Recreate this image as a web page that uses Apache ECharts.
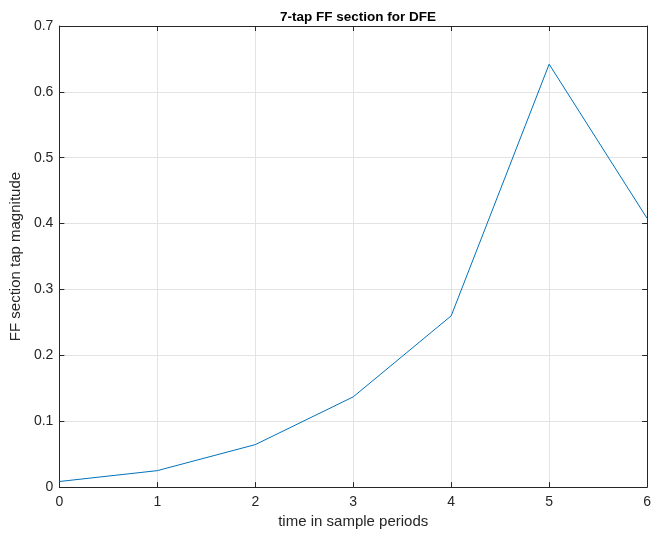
<!DOCTYPE html>
<html>
<head>
<meta charset="utf-8">
<script src="https://cdn.jsdelivr.net/npm/echarts@6/dist/echarts.min.js"></script>
<style>
  html, body { margin: 0; padding: 0; background: #fff; }
  #chart { width: 654px; height: 534px; }
</style>
</head>
<body>
<div id="chart"></div>
<script>
// data
var taps = [0, 1, 2, 3, 4, 5, 6];
var magnitude = [0.0085, 0.025, 0.0645, 0.137, 0.26, 0.642, 0.408];

var axisColor = '#262626';
var font = 'Liberation Sans, Arial, Helvetica, sans-serif';

var chart = echarts.init(document.getElementById('chart'));
chart.setOption({
  backgroundColor: '#fff',
  animation: false,
  title: {
    text: '7-tap FF section for DFE',
    left: 353,
    textAlign: 'center',
    top: 5,
    textStyle: { fontFamily: font, fontSize: 13.5, fontWeight: 'bold', color: '#000' }
  },
  grid: { left: 56, right: 5, top: 26, bottom: 41 },
  xAxis: [
    {
      type: 'value', min: 0, max: 6, interval: 1,
      name: 'time in sample periods', nameLocation: 'middle', nameGap: 24,
      nameTextStyle: { fontFamily: font, fontSize: 15, color: axisColor },
      axisLine: { show: true, onZero: false, lineStyle: { color: axisColor, width: 1 } },
      axisTick: { show: true, inside: true, length: 5, lineStyle: { color: axisColor } },
      axisLabel: { fontFamily: font, fontSize: 14, color: axisColor, margin: 8 },
      splitLine: { show: true, lineStyle: { color: '#e3e3e3' } }
    },
    {
      type: 'value', min: 0, max: 6, interval: 1, position: 'top',
      axisLine: { show: true, onZero: false, lineStyle: { color: axisColor, width: 1 } },
      axisTick: { show: true, inside: true, length: 5, lineStyle: { color: axisColor } },
      axisLabel: { show: false },
      splitLine: { show: false }
    }
  ],
  yAxis: [
    {
      type: 'value', min: 0, max: 0.7, interval: 0.1,
      name: 'FF section tap magnitude', nameLocation: 'middle', nameGap: 34,
      nameTextStyle: { fontFamily: font, fontSize: 15, color: axisColor },
      axisLine: { show: true, onZero: false, lineStyle: { color: axisColor, width: 1 } },
      axisTick: { show: true, inside: true, length: 5, lineStyle: { color: axisColor } },
      axisLabel: {
        fontFamily: font, fontSize: 14, color: axisColor, margin: 6,
        formatter: function (v) { return v === 0 ? '0' : v.toFixed(1); }
      },
      splitLine: { show: true, lineStyle: { color: '#e3e3e3' } }
    },
    {
      type: 'value', min: 0, max: 0.7, interval: 0.1, position: 'right',
      axisLine: { show: true, onZero: false, lineStyle: { color: axisColor, width: 1 } },
      axisTick: { show: true, inside: true, length: 5, lineStyle: { color: axisColor } },
      axisLabel: { show: false },
      splitLine: { show: false }
    }
  ],
  series: [
    {
      type: 'line',
      data: taps.map(function (t, i) { return [t, magnitude[i]]; }),
      symbol: 'none',
      lineStyle: { color: '#0072BD', width: 1 },
      z: 5
    }
  ]
});
</script>
</body>
</html>
